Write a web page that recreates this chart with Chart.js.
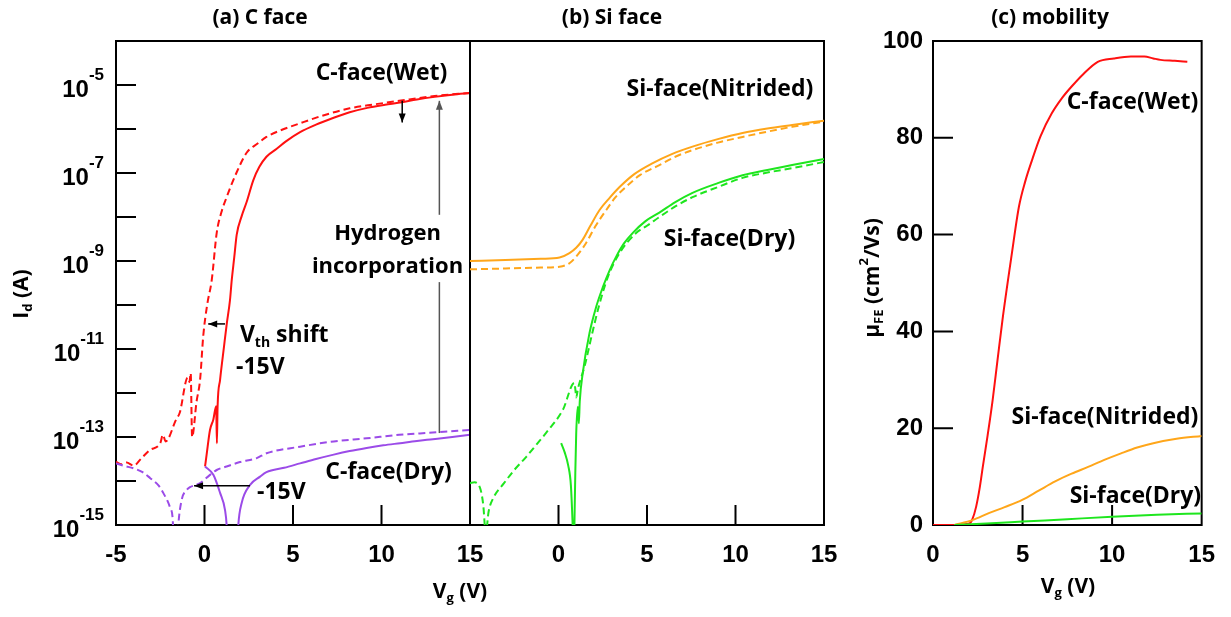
<!DOCTYPE html>
<html>
<head>
<meta charset="utf-8">
<script src="https://cdn.jsdelivr.net/npm/chart.js@4.4.0/dist/chart.umd.min.js"></script>
<style>
  body { margin: 0; background: #fff; }
  #wrap { position: relative; width: 1231px; height: 617px; }
  #wrap canvas { position: absolute; left: 0; top: 0; }
</style>
</head>
<body>
<div id="wrap">
  <canvas id="panelA" width="1231" height="617"></canvas>
  <canvas id="panelB" width="1231" height="617"></canvas>
  <canvas id="panelC" width="1231" height="617"></canvas>
</div>
<script>
// -----------------------------
// DATOS
// Id en décadas: log10(Id / A)
// -----------------------------
const vgTicks = [-5, 0, 5, 10, 15];
const vgTicksMob = [0, 5, 10, 15];
const decadeLabels = [-15, -13, -11, -9, -7, -5];
const mobTicks = [0, 20, 40, 60, 80, 100];

// (a) C face, Wet: continuo = después, discontinuo = antes
const cWetSolidVg = [0.03, 0.12, 0.31, 0.5, 0.66, 0.7, 0.74, 0.88, 1.1, 1.25, 1.44, 1.54, 1.68, 1.82, 2.1, 2.38, 2.76, 3.1, 3.5, 4.08, 4.6, 5.4, 6.3, 7.26, 8.2, 9.2, 10.2, 11.04, 12.0, 13.0, 14.0, 15.0];
const cWetSolidId = [-13.67, -13.4, -12.84, -12.6, -12.3, -13.14, -12.3, -11.7, -10.95, -10.45, -9.89, -9.43, -8.92, -8.4, -7.98, -7.66, -7.16, -6.86, -6.63, -6.45, -6.28, -6.07, -5.9, -5.75, -5.62, -5.52, -5.45, -5.4, -5.33, -5.27, -5.22, -5.18];
const cWetDashVg = [-5.0, -4.7, -4.4, -4.0, -3.6, -3.1, -2.5, -2.35, -2.2, -1.6, -1.4, -0.95, -0.85, -0.78, -0.7, -0.45, -0.25, -0.07, 0.15, 0.41, 0.69, 0.95, 1.25, 1.8, 2.38, 3.0, 3.5, 4.3, 5.4, 6.8, 8.2, 9.6, 11.0, 13.0, 15.0];
const cWetDashId = [-13.56, -13.62, -13.58, -13.65, -13.5, -13.3, -13.14, -12.95, -13.1, -12.6, -12.45, -11.65, -11.75, -11.55, -13.0, -12.2, -11.7, -10.7, -10.0, -9.43, -8.36, -7.9, -7.55, -7.0, -6.54, -6.33, -6.18, -6.03, -5.87, -5.68, -5.53, -5.44, -5.36, -5.25, -5.18];

// (a) C face, Dry
const cDrySolidVg = [0.03, 0.5, 0.88, 1.16, 1.25, 1.3, 1.85, 1.91, 2.1, 2.57, 3.14, 3.5, 4.5, 5.4, 6.3, 7.3, 8.2, 9.16, 10.1, 11.05, 12.0, 12.9, 14.0, 15.0];
const cDrySolidId = [-13.67, -13.86, -14.27, -14.66, -15.0, -15.5, -15.5, -15.0, -14.5, -14.09, -13.9, -13.8, -13.7, -13.6, -13.5, -13.4, -13.32, -13.25, -13.19, -13.14, -13.09, -13.05, -13.0, -12.95];
const cDryDashVg = [-5.0, -4.5, -4.02, -3.5, -3.08, -2.6, -2.33, -1.95, -1.8, -1.72, -1.55, -1.48, -1.29, -1.0, -0.82, -0.25, 0.31, 0.69, 1.25, 2.0, 2.95, 3.5, 5.4, 7.3, 9.16, 11.0, 12.9, 15.0];
const cDryDashId = [-13.6, -13.66, -13.71, -13.8, -13.93, -14.1, -14.27, -14.6, -14.85, -15.5, -15.5, -15.0, -14.43, -14.2, -14.14, -14.05, -13.86, -13.75, -13.67, -13.57, -13.48, -13.37, -13.22, -13.1, -13.03, -12.95, -12.9, -12.84];

// (b) Si face, Nitrided
const siNitSolidVg = [-5.0, -3.0, -1.0, 0.06, 0.62, 1.0, 1.36, 1.8, 2.32, 2.9, 3.45, 4.3, 5.3, 6.4, 7.57, 9.0, 10.4, 11.8, 13.2, 15.0];
const siNitSolidId = [-9.0, -8.98, -8.95, -8.92, -8.82, -8.7, -8.52, -8.2, -7.84, -7.56, -7.32, -7.02, -6.78, -6.57, -6.4, -6.23, -6.09, -5.99, -5.91, -5.81];
const siNitDashVg = [-5.0, -3.0, -1.0, 0.06, 0.62, 1.1, 1.56, 2.1, 2.7, 3.2, 3.8, 4.6, 5.7, 6.6, 7.57, 9.0, 10.4, 11.8, 13.2, 15.0];
const siNitDashId = [-9.19, -9.17, -9.15, -9.13, -9.05, -8.85, -8.59, -8.2, -7.84, -7.56, -7.32, -7.05, -6.82, -6.63, -6.48, -6.31, -6.18, -6.06, -5.95, -5.83];

// (b) Si face, Dry
const siDrySolidVg = [0.15, 0.35, 0.55, 0.7, 0.8, 0.84, 0.88, 0.9, 0.95, 1.0, 1.09, 1.15, 1.2, 1.37, 1.75, 2.13, 2.5, 2.9, 3.26, 3.7, 4.2, 4.9, 5.7, 6.6, 7.57, 9.0, 10.4, 11.8, 13.2, 15.0];
const siDrySolidId = [-13.14, -13.35, -13.65, -14.1, -15.0, -15.5, -15.5, -15.0, -13.8, -12.92, -12.31, -12.69, -12.2, -11.55, -10.64, -10.04, -9.6, -9.2, -8.9, -8.6, -8.36, -8.1, -7.9, -7.66, -7.45, -7.23, -7.05, -6.93, -6.82, -6.68];
const siDryDashVg = [-5.0, -4.75, -4.4, -4.25, -4.11, -3.95, -3.7, -3.08, -2.5, -1.82, -1.2, -0.69, 0.25, 0.9, 0.96, 1.0, 1.1, 1.47, 1.93, 2.3, 2.8, 3.45, 4.4, 5.0, 5.7, 6.6, 7.57, 9.0, 10.4, 11.8, 13.2, 15.0];
const siDryDashId = [-14.05, -14.03, -14.2, -14.55, -15.2, -14.7, -14.4, -14.05, -13.75, -13.45, -13.15, -12.9, -12.38, -11.77, -11.95, -12.1, -11.9, -11.4, -10.6, -10.0, -9.35, -8.82, -8.36, -8.2, -8.0, -7.76, -7.55, -7.32, -7.11, -6.99, -6.89, -6.75];

// (c) movilidad (cm2/Vs)
const mobWetVg = [0, 0.6, 1.2, 2.04, 2.2, 2.41, 2.6, 2.78, 3.05, 3.33, 3.6, 3.88, 4.4, 4.8, 5.15, 5.53, 6.0, 6.64, 7.2, 7.74, 8.4, 9.2, 10.1, 11.05, 11.8, 12.3, 12.7, 13.5, 14.2];
const mobWet = [0, 0, 0, 0.3, 1.2, 3.8, 7.5, 12, 18.5, 25.8, 34, 42.4, 56, 65.8, 71, 75.4, 80.3, 85.1, 88.2, 90.6, 93.2, 95.7, 96.4, 96.8, 96.8, 96.4, 96.1, 95.9, 95.7];
const mobNitVg = [1.2, 2.2, 3.15, 4.0, 4.98, 5.9, 6.82, 7.74, 8.66, 9.6, 10.5, 11.4, 12.3, 13.6, 15.0];
const mobNit = [0, 1.0, 2.5, 3.7, 5.2, 7.1, 9.0, 10.6, 12.0, 13.5, 14.8, 16.0, 16.9, 17.8, 18.4];
const mobDryVg = [1.2, 3.0, 5.0, 7.5, 10.0, 12.5, 15.0];
const mobDry = [0, 0.3, 0.7, 1.2, 1.7, 2.1, 2.4];

// -----------------------------
// COLORES Y FUENTES
// -----------------------------
const ROJO = "#ff1010";
const MORADO = "#9b4be8";
const NARANJA = "#ffa61a";
const VERDE = "#1ee61e";
const TXT = "'Open Sans', 'Noto Sans', sans-serif";
const TICKFONT = { family: "'Liberation Sans', Arial, sans-serif", size: 24, weight: "bold" };

// -----------------------------
// UTILIDADES
// -----------------------------
function puntos(xs, ys, log) {
    return xs.map((x, i) => ({ x, y: log ? Math.pow(10, ys[i]) : ys[i] }));
}

function serie(xs, ys, color, dashed, log) {
    return {
        data: puntos(xs, ys, log),
        borderColor: color,
        borderWidth: 2,
        borderDash: dashed ? [7, 4] : [],
        pointRadius: 0,
        fill: false,
        cubicInterpolationMode: "monotone"
    };
}

function textoRico(ctx, segs, x, y, size, align, weight) {
    const small = Math.round(size * 0.62);
    const fuente = s => `${weight || "bold"} ${s.sub || s.sup ? small : size}px ${TXT}`;
    let total = 0;
    segs.forEach(s => { ctx.font = fuente(s); s.w = ctx.measureText(s.t).width; total += s.w; });
    let cx = align === "center" ? x - total / 2 : align === "right" ? x - total : x;
    ctx.textAlign = "left";
    ctx.textBaseline = "middle";
    segs.forEach(s => {
        ctx.font = fuente(s);
        const dy = s.sub ? size * 0.32 : s.sup ? -size * 0.42 : 0;
        ctx.fillText(s.t, cx, y + dy);
        cx += s.w;
    });
}

function flecha(ctx, x1, y1, x2, y2, color) {
    const ang = Math.atan2(y2 - y1, x2 - x1);
    ctx.strokeStyle = color;
    ctx.fillStyle = color;
    ctx.lineWidth = 1.5;
    ctx.beginPath();
    ctx.moveTo(x1, y1);
    ctx.lineTo(x2, y2);
    ctx.stroke();
    ctx.beginPath();
    ctx.moveTo(x2, y2);
    ctx.lineTo(x2 - 9 * Math.cos(ang) + 3.5 * Math.sin(ang), y2 - 9 * Math.sin(ang) - 3.5 * Math.cos(ang));
    ctx.lineTo(x2 - 9 * Math.cos(ang) - 3.5 * Math.sin(ang), y2 - 9 * Math.sin(ang) + 3.5 * Math.cos(ang));
    ctx.closePath();
    ctx.fill();
}

// -----------------------------
// PLUGIN: marco, ticks interiores, etiquetas y anotaciones
// -----------------------------
const decoracion = {
    id: "deco",
    beforeDatasetsDraw(chart, args, o) {
        const { ctx, chartArea: a, scales } = chart;
        const Y = v => scales.y.getPixelForValue(o.logY ? Math.pow(10, v) : v);
        ctx.save();
        ctx.strokeStyle = "#000";
        ctx.lineWidth = 2;
        ctx.strokeRect(a.left, a.top, a.right - a.left, a.bottom - a.top);
        ctx.beginPath();
        (o.xTicks || []).forEach(v => {
            const px = scales.x.getPixelForValue(v);
            ctx.moveTo(px, a.bottom);
            ctx.lineTo(px, a.bottom - 20);
        });
        (o.yTicks || []).forEach(v => {
            const py = Y(v);
            ctx.moveTo(a.left, py);
            ctx.lineTo(a.left + 20, py);
        });
        ctx.stroke();
        ctx.restore();
    },
    afterDraw(chart, args, o) {
        const { ctx, chartArea: a, scales } = chart;
        const X = v => scales.x.getPixelForValue(v);
        const Y = v => scales.y.getPixelForValue(o.logY ? Math.pow(10, v) : v);
        ctx.save();
        ctx.fillStyle = "#000";

        // etiquetas 10^n del eje logarítmico
        (o.decadas || []).forEach(e => {
            const py = Y(e);
            ctx.font = `bold 17px ${TICKFONT.family}`;
            const exp = String(e);
            const we = ctx.measureText(exp).width;
            const right = a.left - 12;
            ctx.textAlign = "left";
            ctx.textBaseline = "middle";
            ctx.fillText(exp, right - we, py - 10);
            ctx.font = `bold 24px ${TICKFONT.family}`;
            ctx.textAlign = "right";
            ctx.fillText("10", right - we, py + 5);
        });

        (o.lineas || []).forEach(l => {
            ctx.strokeStyle = l.color;
            ctx.lineWidth = 1.5;
            ctx.beginPath();
            ctx.moveTo(X(l.x1), Y(l.y1));
            ctx.lineTo(X(l.x2), Y(l.y2));
            ctx.stroke();
        });
        (o.flechas || []).forEach(f => flecha(ctx, X(f.x1), Y(f.y1), X(f.x2), Y(f.y2), f.color));

        ctx.fillStyle = "#000";
        (o.textos || []).forEach(t => textoRico(ctx, t.segs, X(t.x), Y(t.y), t.size || 23, t.align || "center"));

        (o.pagina || []).forEach(t => {
            ctx.save();
            ctx.translate(t.px, t.py);
            if (t.rot) ctx.rotate(t.rot);
            textoRico(ctx, t.segs, 0, 0, t.size, "center", t.weight);
            ctx.restore();
        });
        ctx.restore();
    }
};

function ejeX(min, max, ticks, ocultar) {
    return {
        type: "linear",
        min, max,
        afterBuildTicks: s => { s.ticks = ticks.map(v => ({ value: v })); },
        afterFit: s => { s.height = 92; },
        grid: { display: false, drawTicks: false },
        border: { display: false },
        ticks: {
            font: TICKFONT,
            color: "#000",
            padding: 16,
            maxRotation: 0,
            autoSkip: false,
            callback: v => (ocultar && ocultar.includes(v)) ? "" : String(v)
        }
    };
}

function opcionesBase(padding, scales, deco) {
    return {
        responsive: false,
        animation: false,
        events: [],
        layout: { padding },
        scales,
        plugins: { legend: { display: false }, tooltip: { enabled: false }, deco }
    };
}

const ejeLog = {
    type: "logarithmic",
    min: 1e-15,
    max: 1e-4,
    display: false
};

const decadasTicks = [-15, -14, -13, -12, -11, -10, -9, -8, -7, -6, -5];

// -----------------------------
// (a) C face
// -----------------------------
new Chart(document.getElementById("panelA"), {
    type: "line",
    data: {
        datasets: [
            serie(cDryDashVg, cDryDashId, MORADO, true, true),
            serie(cDrySolidVg, cDrySolidId, MORADO, false, true),
            serie(cWetDashVg, cWetDashId, ROJO, true, true),
            serie(cWetSolidVg, cWetSolidId, ROJO, false, true)
        ]
    },
    options: opcionesBase(
        { left: 116, right: 761, top: 41, bottom: 0 },
        { x: ejeX(-5, 15, vgTicks), y: ejeLog },
        {
            logY: true,
            xTicks: [0, 5, 10],
            yTicks: decadasTicks,
            decadas: decadeLabels,
            lineas: [
                { x1: 13.27, y1: -12.91, x2: 13.27, y2: -9.48, color: "#555" }
            ],
            flechas: [
                { x1: 13.27, y1: -7.95, x2: 13.27, y2: -5.36, color: "#555" },
                { x1: 11.17, y1: -5.36, x2: 11.17, y2: -5.85, color: "#000" },
                { x1: 1.16, y1: -10.43, x2: 0.21, y2: -10.43, color: "#000" },
                { x1: 2.57, y1: -14.11, x2: -0.59, y2: -14.11, color: "#000" }
            ],
            textos: [
                { segs: [{ t: "C-face(Wet)" }], x: 10, y: -4.73 },
                { segs: [{ t: "Hydrogen" }], x: 10.34, y: -8.39, size: 22 },
                { segs: [{ t: "incorporation" }], x: 10.34, y: -9.14, size: 22 },
                { segs: [{ t: "V" }, { t: "th", sub: true }, { t: " shift" }], x: 2.0, y: -10.7, align: "left" },
                { segs: [{ t: "-15V" }], x: 1.78, y: -11.41, align: "left" },
                { segs: [{ t: "-15V" }], x: 2.97, y: -14.27, align: "left" },
                { segs: [{ t: "C-face(Dry)" }], x: 10.4, y: -13.81 }
            ],
            pagina: [
                { segs: [{ t: "(a) C face" }], px: 260, py: 18, size: 21 },
                { segs: [{ t: "(b) Si face" }], px: 612, py: 18, size: 21 },
                { segs: [{ t: "I" }, { t: "d", sub: true }, { t: " (A)" }], px: 22, py: 294, size: 21, rot: -Math.PI / 2 },
                { segs: [{ t: "V" }, { t: "g", sub: true }, { t: " (V)" }], px: 460, py: 592, size: 21 }
            ]
        }
    ),
    plugins: [decoracion]
});

// -----------------------------
// (b) Si face
// -----------------------------
new Chart(document.getElementById("panelB"), {
    type: "line",
    data: {
        datasets: [
            serie(siNitDashVg, siNitDashId, NARANJA, true, true),
            serie(siNitSolidVg, siNitSolidId, NARANJA, false, true),
            serie(siDryDashVg, siDryDashId, VERDE, true, true),
            serie(siDrySolidVg, siDrySolidId, VERDE, false, true)
        ]
    },
    options: opcionesBase(
        { left: 470, right: 407, top: 41, bottom: 0 },
        { x: ejeX(-5, 15, vgTicks, [-5]), y: ejeLog },
        {
            logY: true,
            xTicks: [0, 5, 10],
            textos: [
                { segs: [{ t: "Si-face(Nitrided)" }], x: 9.12, y: -5.11 },
                { segs: [{ t: "Si-face(Dry)" }], x: 9.66, y: -8.52 }
            ]
        }
    ),
    plugins: [decoracion]
});

// -----------------------------
// (c) mobility
// -----------------------------
new Chart(document.getElementById("panelC"), {
    type: "line",
    data: {
        datasets: [
            serie(mobDryVg, mobDry, VERDE, false, false),
            serie(mobNitVg, mobNit, NARANJA, false, false),
            serie(mobWetVg, mobWet, ROJO, false, false)
        ]
    },
    options: opcionesBase(
        { left: 873, right: 26, top: 41, bottom: 0 },
        {
            x: ejeX(0, 15, vgTicksMob),
            y: {
                type: "linear",
                min: 0,
                max: 100,
                afterBuildTicks: s => { s.ticks = mobTicks.map(v => ({ value: v })); },
                afterFit: s => { s.width = 60; },
                grid: { display: false, drawTicks: false },
                border: { display: false },
                ticks: { font: TICKFONT, color: "#000", padding: 10 }
            }
        },
        {
            logY: false,
            xTicks: [5, 10],
            yTicks: [20, 40, 60, 80],
            textos: [
                { segs: [{ t: "C-face(Wet)" }], x: 11.14, y: 87.2 },
                { segs: [{ t: "Si-face(Nitrided)" }], x: 9.6, y: 22.3 },
                { segs: [{ t: "Si-face(Dry)" }], x: 11.3, y: 5.8 }
            ],
            pagina: [
                { segs: [{ t: "(c) mobility" }], px: 1050, py: 18, size: 21 },
                { segs: [{ t: "\u03bc" }, { t: "FE", sub: true }, { t: " (cm" }, { t: "2", sup: true }, { t: "/Vs)" }], px: 873, py: 278, size: 21, rot: -Math.PI / 2 },
                { segs: [{ t: "V" }, { t: "g", sub: true }, { t: " (V)" }], px: 1068, py: 587, size: 21 }
            ]
        }
    ),
    plugins: [decoracion]
});
</script>
</body>
</html>
